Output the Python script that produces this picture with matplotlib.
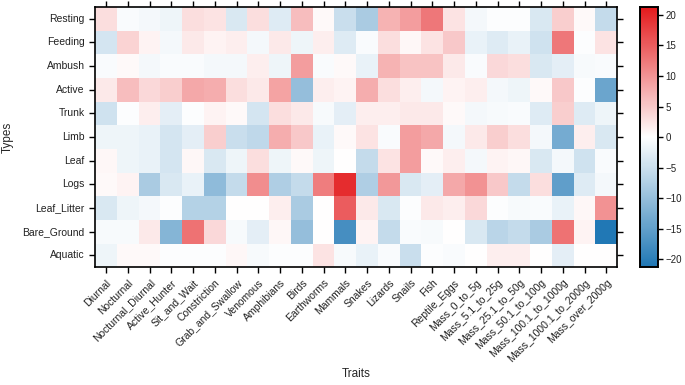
import matplotlib
matplotlib.use("Agg")
import matplotlib.pyplot as plt
import numpy as np
import pandas as pd
import seaborn as sns
from matplotlib.colors import LinearSegmentedColormap

types = ["Resting", "Feeding", "Ambush", "Active", "Trunk", "Limb", "Leaf",
         "Logs", "Leaf_Litter", "Bare_Ground", "Aquatic"]
traits = ["Diurnal", "Nocturnal", "Nocturnal_Diurnal", "Active_Hunter",
          "Sit_and_Wait", "Constriction", "Grab_and_Swallow", "Venomous",
          "Amphibians", "Birds", "Earthworms", "Mammals", "Snakes", "Lizards",
          "Snails", "Fish", "Reptile_Eggs", "Mass_0_to_5g", "Mass_5.1_to_25g",
          "Mass_25.1_to_50g", "Mass_50.1_to_100g", "Mass_100.1_to_1000g",
          "Mass_1000.1_to_2000g", "Mass_over_2000g"]

# one list per habitat/behaviour type
resting = [3, -0.5, -1, -1.5, 3, 2.5, -3.5, 3, -3, 6, 0.5, -5,
           -8, 7, 9, 12.5, 2.5, -1, -0.3, -0.3, -3.5, 4.5, 0.5, -5.5]
feeding = [-4, 4, 1, -1, 2, 1, 1.5, -1, 2, -1.5, 1.5, -3,
           -0.5, 3, 0.8, 2.5, 5, -2, -3, -2, -4.5, 12.5, -0.2, 2.5]
ambush = [-0.5, 0.5, -1, -0.5, -0.5, -1, -1, 1.5, -1.5, 9, -0.5, 0.5,
          -2, 7, 5.5, 5.5, 2, -0.5, 3.5, 3, -3.5, -2.5, -0.8, -0.5]
active = [2, 6, 3.5, 4.5, 8, 7.5, 3, 2, 8.5, -10, 1.5, 1,
          7.5, 3, 1.5, -1, 1, 1.5, -1, -1.5, 0.5, 5, -0.3, -14]
trunk = [-4.5, -0.3, 1.5, -2.5, -0.3, 1, 0.5, -4, 3, 2, -0.8, -2.5,
         1.5, 1.5, 2, 2, 0.5, -1, -0.8, -0.5, -3, 4.5, -3, -1.5]
limb = [-1.5, -1.5, -2, -4, -2.5, 4.5, -5, -6, 7.5, 5, -2, 0.5,
        2.5, -0.5, 9, 8, -1, 2, 4.5, 3, -1, -13, 1.5, -3.5]
leaf = [0.8, -1.5, -2, -4, 0.8, -3.5, -1.5, 3, -1.5, 0.5, -1.5, 0,
        -5.5, 2.5, 9, 0.5, 1.5, -1, 1, 0.8, -3.5, -1, -4.5, -0.5]
logs = [0.5, 1, -8, -3.5, -2, -10.5, -5.5, 10.5, -7.5, -5.5, 12, 19.5,
        -7.5, 9.5, -3.5, -2.5, 8, 10, 5, -5.5, 3, -15, -3, -1]
leaf_litter = [-3.5, -1.5, -1, -0.2, -7, -7, 0, 0, 1.5, -8, 0, 15,
               2, -3.5, -0.2, 2, 1.5, 3.5, -0.3, -0.8, -0.5, -2, 0.8, 10]
bare_ground = [-0.8, -0.8, 2, -11.5, 13, 3.5, -0.8, -2.5, 0.8, -10, 0, -17.5,
               1, -5.5, -0.5, -0.8, 0, -3.5, -6.5, -5.5, -8, 13, 1, -21]
aquatic = [-1.5, 0.5, 0.5, -0.3, -0.3, -0.3, 0.8, -0.8, -0.2, -0.3, 2.5, -0.8,
           -2, -0.5, -5, -0.3, -0.5, 0, 1.5, 1.5, 0, -2.5, 0, 0]

df = pd.DataFrame([resting, feeding, ambush, active, trunk, limb, leaf,
                   logs, leaf_litter, bare_ground, aquatic],
                  index=types, columns=traits)

sns.set_style("ticks")
plt.rcParams["font.family"] = ["Liberation Sans", "DejaVu Sans"]

cmap = LinearSegmentedColormap.from_list("bwr_custom", ["#1f77b4", "#ffffff", "#e31a1c"])

fig = plt.figure(figsize=(6.85, 3.85), dpi=100)
ax = fig.add_axes([0.139, 0.306, 0.762, 0.676])
cax = fig.add_axes([0.935, 0.306, 0.026, 0.676])

sns.heatmap(df, ax=ax, cbar_ax=cax, cmap=cmap, vmin=-21.3, vmax=21.3, center=0,
            cbar_kws={"ticks": [-20, -15, -10, -5, 0, 5, 10, 15, 20]})

for s in ax.spines.values():
    s.set_visible(True)
    s.set_color("black")
    s.set_linewidth(1.2)
ax.tick_params(axis="both", direction="out", length=4, width=1, colors="black",
               top=True, right=True, labeltop=False, labelright=False)
ax.set_xticklabels(traits, rotation=45, ha="right", rotation_mode="anchor",
                   fontsize=7.5, color="#222222")
ax.set_yticklabels(types, rotation=0, fontsize=7.5, color="#222222")
ax.set_xlabel("Traits", fontsize=8.5, labelpad=3)
ax.set_ylabel("Types", fontsize=8.5, labelpad=6)

cax.tick_params(labelsize=7, length=3.5, width=1, pad=1.5, colors="black")
for lbl in cax.get_yticklabels():
    lbl.set_color("#222222")
for s in cax.spines.values():
    s.set_visible(True)
    s.set_color("black")
    s.set_linewidth(1.2)

fig.savefig("out.png", dpi=100)
